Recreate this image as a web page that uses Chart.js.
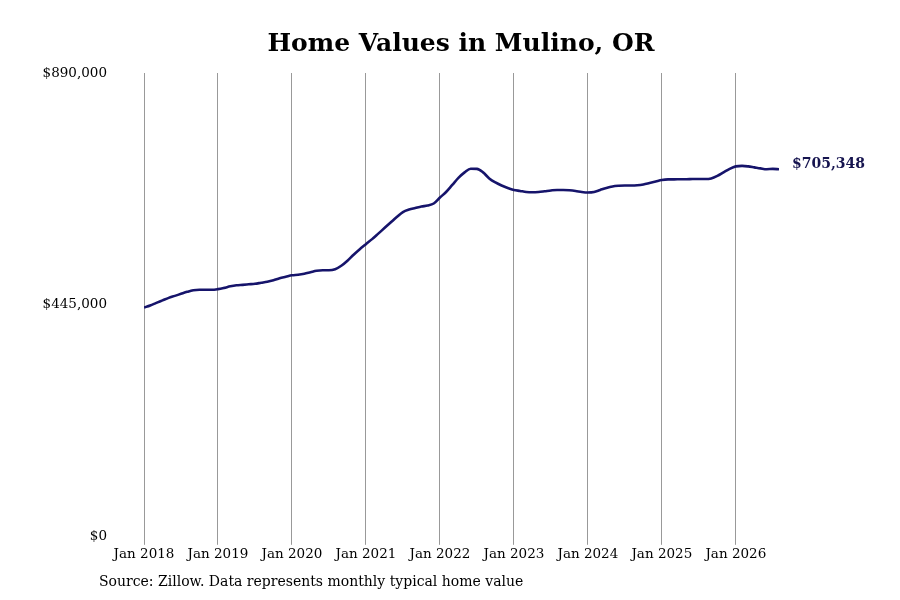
<!DOCTYPE html>
<html>
<head>
<meta charset="utf-8">
<script src="https://cdn.jsdelivr.net/npm/chart.js@4.4.0/dist/chart.umd.min.js"></script>
<style>
html,body{margin:0;padding:0;background:#fff;}
#wrap{width:900px;height:600px;position:relative;}
</style>
</head>
<body>
<div id="wrap"><canvas id="c" width="900" height="600"></canvas></div>
<script>
// Data: monthly typical home value, Jan 2018 .. Aug 2026
const startYear = 2018;
const tickYears = ["Jan 2018","Jan 2019","Jan 2020","Jan 2021","Jan 2022","Jan 2023","Jan 2024","Jan 2025","Jan 2026"];
const yTicks = [0, 445000, 890000];
const values = [
 439800,444000,448900,453700,458500,462300,466200,470000,473000,474000,474000,474000,
 475300,477700,480600,482600,483500,484500,485500,487400,489300,492200,496000,498900,
 501800,502800,504700,507600,510500,511400,511400,513400,520100,529800,541300,551900,
 561600,571200,581800,592400,603000,613600,623200,628000,630900,633800,635700,639600,
 651000,661700,675200,688700,699300,706400,706000,699300,687700,680000,674200,669400,
 665600,663700,661700,661100,661700,663100,664600,665600,665600,665000,663700,661700,
 660700,661700,665600,669400,672300,673600,674200,674200,674600,676200,679000,681900,
 684800,685800,685800,686200,686200,686600,686600,686600,687700,692500,699300,706000,
 710800,711800,710800,708900,707000,705400,706000,705348
];
const lastLabel = "$705,348";
const titleText = "Home Values in Mulino, OR";
const sourceText = "Source: Zillow. Data represents monthly typical home value";

const points = values.map((v,i)=>({x:i,y:v}));
const fmt = v => "$" + v.toLocaleString("en-US");

const extras = {
  id:'extras',
  afterDraw(chart){
    const ctx = chart.ctx;
    const meta = chart.getDatasetMeta(0);
    const last = meta.data[meta.data.length-1];
    ctx.save();
    ctx.fillStyle = '#16144f';
    ctx.font = 'bold 14px "DejaVu Serif"';
    ctx.textBaseline = 'middle';
    ctx.textAlign = 'left';
    ctx.fillText(lastLabel, last.x + 13, last.y - 5);
    ctx.fillStyle = '#000';
    ctx.font = '14px "DejaVu Serif"';
    ctx.fillText(sourceText, 99, 582);
    ctx.font = 'bold 25px "DejaVu Serif"';
    ctx.textAlign = 'center';
    ctx.fillText(titleText, 461, 44);
    ctx.restore();
  }
};

new Chart(document.getElementById('c'), {
  type:'line',
  data:{datasets:[{data:points, borderColor:'#16146b', borderWidth:2.6, pointRadius:0, cubicInterpolationMode:'monotone', fill:false}]},
  options:{
    responsive:false, animation:false,
    layout:{padding:{left:0,right:121,top:73,bottom:35}},
    plugins:{
      legend:{display:false}, tooltip:{enabled:false}, title:{display:false}
    },
    scales:{
      x:{type:'linear', min:0, max:values.length-1,
         afterBuildTicks(s){ s.ticks = tickYears.map((t,i)=>({value:i*12})); },
         ticks:{callback:(v)=>tickYears[Math.round(v/12)], color:'#000', font:{family:'"DejaVu Serif"', size:13.5}, maxRotation:0, padding:2},
         grid:{color:'#999', lineWidth:1, drawTicks:true, tickLength:8},
         border:{display:false}
      },
      y:{min:0, max:890000,
         afterBuildTicks(s){ s.ticks = yTicks.map(v=>({value:v})); },
         afterFit(s){ s.width = 144; },
         ticks:{callback:(v)=>fmt(v), color:'#000', font:{family:'"DejaVu Serif"', size:13.5}, padding:37},
         grid:{display:false, drawTicks:false},
         border:{display:false}
      }
    }
  },
  plugins:[extras]
});
</script>
</body>
</html>
